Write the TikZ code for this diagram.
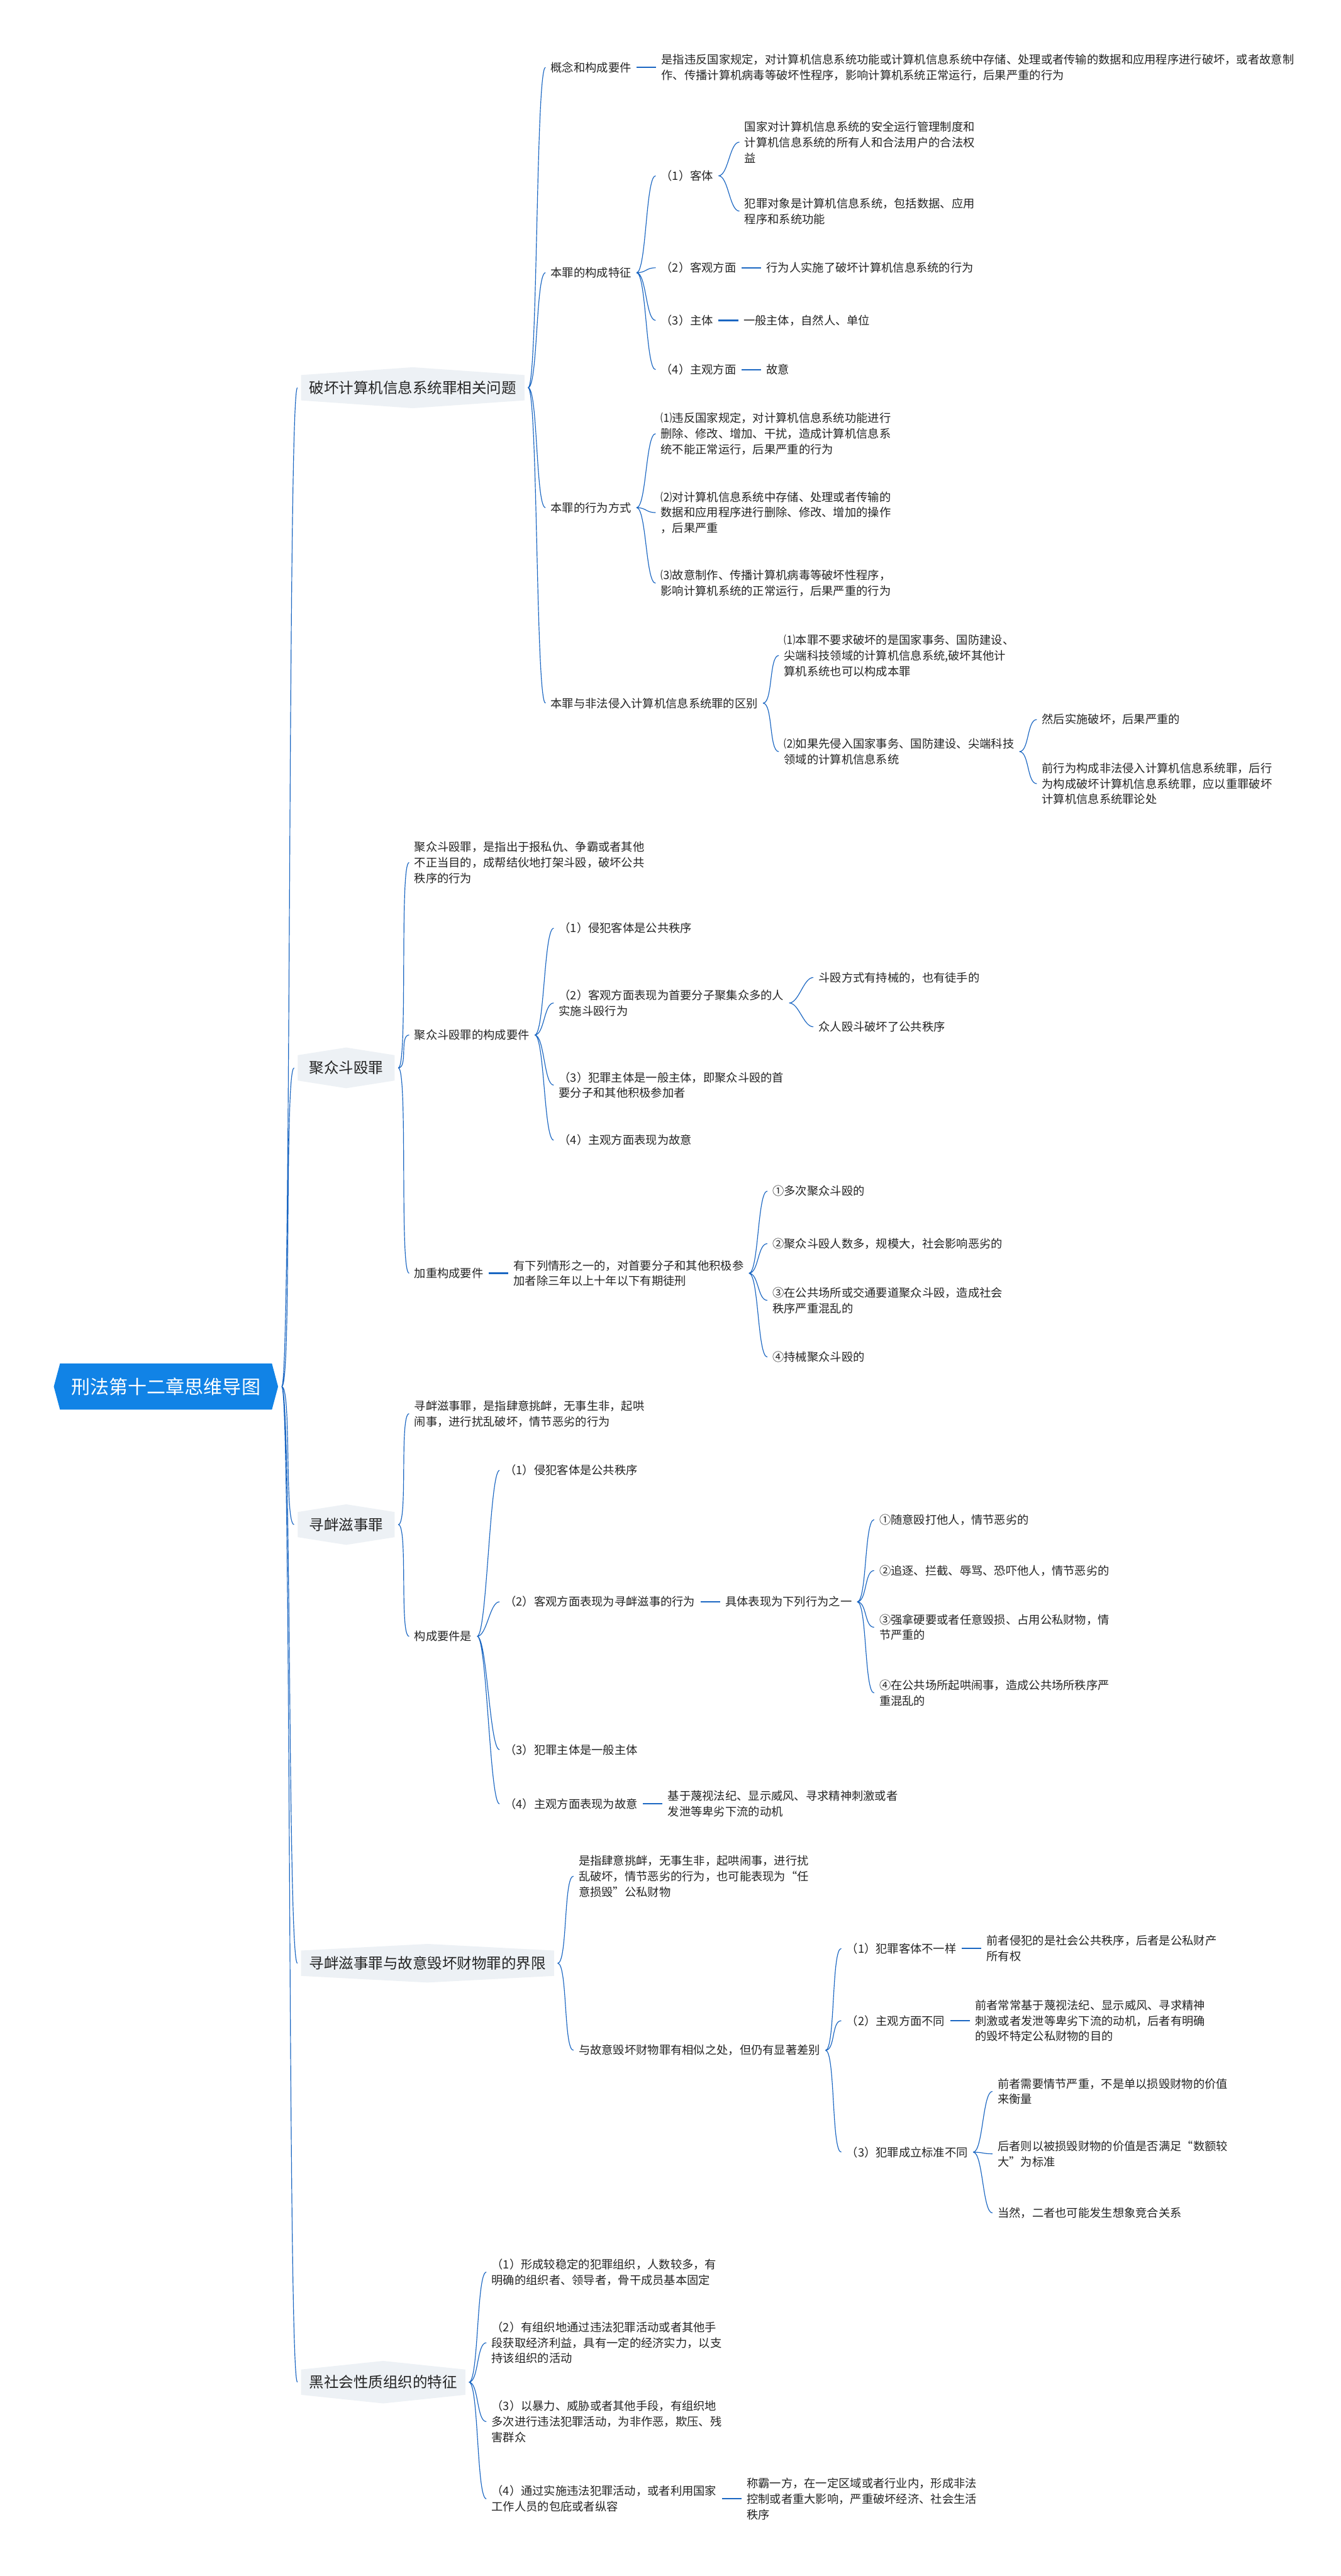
\documentclass[tikz,border=0pt]{standalone}
\usepackage{fontspec}
\setmainfont{Noto Sans CJK SC}
\usepackage{tikz}
\usetikzlibrary{positioning, shapes.symbols}
\definecolor{linea}{HTML}{1A66C2}
\definecolor{radicecol}{HTML}{1183E6}
\definecolor{grigio}{HTML}{EDF1F5}
\definecolor{testo}{HTML}{242424}
\tikzset{
	% nodo centrale (esagono blu)
	radice/.style={signal, signal to=west and east, signal pointer angle=150, fill=radicecol, text=white,
	               minimum height=28pt, inner xsep=7pt, font=\fontsize{11.5}{13}\selectfont},
	% rami principali (esagono grigio)
	categoria/.style={signal, signal to=north and south, signal pointer angle=172, fill=grigio, text=testo,
	                  anchor=west, inner xsep=5pt, inner ysep=3.5pt, font=\fontsize{9}{11}\selectfont},
	% testo semplice
	voce/.style={anchor=west, inner sep=1pt, align=left, text=testo, font=\fontsize{7}{9.5}\selectfont},
	% collegamento curvo
	ramo/.style={draw=linea, line width=0.45pt,
	             to path={([xshift=2pt]\tikztostart) .. controls +(6,0) and +(-6,0) .. ([xshift=-2pt]\tikztotarget)}},
	% collegamento diritto (figlio unico)
	tratto/.style={draw=linea, line width=0.9pt,
	               to path={([xshift=2pt]\tikztostart) -- ([xshift=-2pt]\tikztotarget)}},
}

\begin{document}
\begin{tikzpicture}[x=1pt, y=-1pt]
    \fill[white] (0,0) rectangle (816,1568);

    % ---------------- radice ----------------
    \node[radice] (r) at (101,844) {刑法第十二章思维导图};

    \node[categoria] (c1) at (183,236) {破坏计算机信息系统罪相关问题};
    \node[categoria, signal pointer angle=162, inner xsep=7pt] (c2) at (181,650) {聚众斗殴罪};
    \node[categoria, signal pointer angle=162, inner xsep=7pt] (c3) at (181,928) {寻衅滋事罪};
    \node[categoria, signal pointer angle=174] (c4) at (183,1195) {寻衅滋事罪与故意毁坏财物罪的界限};
    \node[categoria, signal pointer angle=168] (c5) at (183,1450) {黑社会性质组织的特征};
    \draw[ramo] (r.east) to (c1.west) (r.east) to (c2.west) (r.east) to (c3.west)
                (r.east) to (c4.west) (r.east) to (c5.west);

    % ---------------- 破坏计算机信息系统罪 ----------------
    \node[voce] (c1a) at (334,41) {概念和构成要件};
    \node[voce, right=16pt of c1a] (c1a1) {是指违反国家规定，对计算机信息系统功能或计算机信息系统中存储、处理或者传输的数据和应用程序进行破坏，或者故意制\\作、传播计算机病毒等破坏性程序，影响计算机系统正常运行，后果严重的行为};
    \draw[tratto] (c1a.east) to (c1a1.west);

    \node[voce] (c1b) at (334,166) {本罪的构成特征};
    \node[voce] (c1b1) at (401,107) {（1）客体};
    \node[voce] (c1b1a) at (452,86.5) {国家对计算机信息系统的安全运行管理制度和\\计算机信息系统的所有人和合法用户的合法权\\益};
    \node[voce] (c1b1b) at (452,128.5) {犯罪对象是计算机信息系统，包括数据、应用\\程序和系统功能};
    \node[voce] (c1b2) at (401,163) {（2）客观方面};
    \node[voce, right=16pt of c1b2] (c1b2a) {行为人实施了破坏计算机信息系统的行为};
    \node[voce] (c1b3) at (401,195) {（3）主体};
    \node[voce, right=16pt of c1b3] (c1b3a) {一般主体，自然人、单位};
    \node[voce] (c1b4) at (401,225) {（4）主观方面};
    \node[voce, right=16pt of c1b4] (c1b4a) {故意};
    \draw[ramo] (c1b1.east) to (c1b1a.west) (c1b1.east) to (c1b1b.west);
    \draw[ramo] (c1b.east) to (c1b1.west) (c1b.east) to (c1b2.west) (c1b.east) to (c1b3.west) (c1b.east) to (c1b4.west);
    \draw[tratto] (c1b2.east) to (c1b2a.west) (c1b3.east) to (c1b3a.west) (c1b4.east) to (c1b4a.west);

    \node[voce] (c1c) at (334,309) {本罪的行为方式};
    \node[voce] (c1c1) at (401,264) {⑴违反国家规定，对计算机信息系统功能进行\\删除、修改、增加、干扰，造成计算机信息系\\统不能正常运行，后果严重的行为};
    \node[voce] (c1c2) at (401,312) {⑵对计算机信息系统中存储、处理或者传输的\\数据和应用程序进行删除、修改、增加的操作\\，后果严重};
    \node[voce] (c1c3) at (401,355) {⑶故意制作、传播计算机病毒等破坏性程序，\\影响计算机系统的正常运行，后果严重的行为};
    \draw[ramo] (c1c.east) to (c1c1.west) (c1c.east) to (c1c2.west) (c1c.east) to (c1c3.west);

    \node[voce] (c1d) at (334,428) {本罪与非法侵入计算机信息系统罪的区别};
    \node[voce] (c1d1) at (476,399) {⑴本罪不要求破坏的是国家事务、国防建设、\\尖端科技领域的计算机信息系统,破坏其他计\\算机系统也可以构成本罪};
    \node[voce] (c1d2) at (476,457.5) {⑵如果先侵入国家事务、国防建设、尖端科技\\领域的计算机信息系统};
    \node[voce] (c1d2a) at (633,438) {然后实施破坏，后果严重的};
    \node[voce] (c1d2b) at (633,477) {前行为构成非法侵入计算机信息系统罪，后行\\为构成破坏计算机信息系统罪，应以重罪破坏\\计算机信息系统罪论处};
    \draw[ramo] (c1d.east) to (c1d1.west) (c1d.east) to (c1d2.west);
    \draw[ramo] (c1d2.east) to (c1d2a.west) (c1d2.east) to (c1d2b.west);

    \draw[ramo] (c1.east) to (c1a.west) (c1.east) to (c1b.west) (c1.east) to (c1c.west) (c1.east) to (c1d.west);

    % ---------------- 聚众斗殴罪 ----------------
    \node[voce] (c2a) at (251,525) {聚众斗殴罪，是指出于报私仇、争霸或者其他\\不正当目的，成帮结伙地打架斗殴，破坏公共\\秩序的行为};
    \node[voce] (c2b) at (251,630) {聚众斗殴罪的构成要件};
    \node[voce] (c2b1) at (339,565) {（1）侵犯客体是公共秩序};
    \node[voce] (c2b2) at (339,610.5) {（2）客观方面表现为首要分子聚集众多的人\\实施斗殴行为};
    \node[voce] (c2b2a) at (497,595) {斗殴方式有持械的，也有徒手的};
    \node[voce] (c2b2b) at (497,625) {众人殴斗破坏了公共秩序};
    \node[voce] (c2b3) at (339,660.5) {（3）犯罪主体是一般主体，即聚众斗殴的首\\要分子和其他积极参加者};
    \node[voce] (c2b4) at (339,694) {（4）主观方面表现为故意};
    \draw[ramo] (c2b.east) to (c2b1.west) (c2b.east) to (c2b2.west) (c2b.east) to (c2b3.west) (c2b.east) to (c2b4.west);
    \draw[ramo] (c2b2.east) to (c2b2a.west) (c2b2.east) to (c2b2b.west);

    \node[voce] (c2c) at (251,775) {加重构成要件};
    \node[voce, right=16pt of c2c] (c2c1) {有下列情形之一的，对首要分子和其他积极参\\加者除三年以上十年以下有期徒刑};
    \draw[tratto] (c2c.east) to (c2c1.west);
    \node[voce] (c2c1a) at (469,725) {①多次聚众斗殴的};
    \node[voce] (c2c1b) at (469,757) {②聚众斗殴人数多，规模大，社会影响恶劣的};
    \node[voce] (c2c1c) at (469,791.5) {③在公共场所或交通要道聚众斗殴，造成社会\\秩序严重混乱的};
    \node[voce] (c2c1d) at (469,826) {④持械聚众斗殴的};
    \draw[ramo] (c2c1.east) to (c2c1a.west) (c2c1.east) to (c2c1b.west) (c2c1.east) to (c2c1c.west) (c2c1.east) to (c2c1d.west);

    \draw[ramo] (c2.east) to (c2a.west) (c2.east) to (c2b.west) (c2.east) to (c2c.west);

    % ---------------- 寻衅滋事罪 ----------------
    \node[voce] (c3a) at (251,860.5) {寻衅滋事罪，是指肆意挑衅，无事生非，起哄\\闹事，进行扰乱破坏，情节恶劣的行为};
    \node[voce] (c3b) at (251,996) {构成要件是};
    \node[voce] (c3b1) at (306,895) {（1）侵犯客体是公共秩序};
    \node[voce] (c3b2) at (306,975) {（2）客观方面表现为寻衅滋事的行为};
    \node[voce, right=16pt of c3b2] (c3b2a) {具体表现为下列行为之一};
    \draw[tratto] (c3b2.east) to (c3b2a.west);
    \node[voce] (c3b2a1) at (534,925) {①随意殴打他人，情节恶劣的};
    \node[voce] (c3b2a2) at (534,956) {②追逐、拦截、辱骂、恐吓他人，情节恶劣的};
    \node[voce] (c3b2a3) at (534,990.5) {③强拿硬要或者任意毁损、占用公私财物，情\\节严重的};
    \node[voce] (c3b2a4) at (534,1030.5) {④在公共场所起哄闹事，造成公共场所秩序严\\重混乱的};
    \draw[ramo] (c3b2a.east) to (c3b2a1.west) (c3b2a.east) to (c3b2a2.west) (c3b2a.east) to (c3b2a3.west) (c3b2a.east) to (c3b2a4.west);
    \node[voce] (c3b3) at (306,1065) {（3）犯罪主体是一般主体};
    \node[voce] (c3b4) at (306,1098) {（4）主观方面表现为故意};
    \node[voce, right=16pt of c3b4] (c3b4a) {基于蔑视法纪、显示威风、寻求精神刺激或者\\发泄等卑劣下流的动机};
    \draw[tratto] (c3b4.east) to (c3b4a.west);
    \draw[ramo] (c3b.east) to (c3b1.west) (c3b.east) to (c3b2.west) (c3b.east) to (c3b3.west) (c3b.east) to (c3b4.west);

    \draw[ramo] (c3.east) to (c3a.west) (c3.east) to (c3b.west);

    % ---------------- 界限 ----------------
    \node[voce] (c4a) at (351,1142) {是指肆意挑衅，无事生非，起哄闹事，进行扰\\乱破坏，情节恶劣的行为，也可能表现为“任\\意损毁”公私财物};
    \node[voce] (c4b) at (351,1248) {与故意毁坏财物罪有相似之处，但仍有显著差别};
    \node[voce] (c4b1) at (514,1186) {（1）犯罪客体不一样};
    \node[voce, right=16pt of c4b1] (c4b1a) {前者侵犯的是社会公共秩序，后者是公私财产\\所有权};
    \node[voce] (c4b2) at (514,1230) {（2）主观方面不同};
    \node[voce, right=16pt of c4b2] (c4b2a) {前者常常基于蔑视法纪、显示威风、寻求精神\\刺激或者发泄等卑劣下流的动机，后者有明确\\的毁坏特定公私财物的目的};
    \node[voce] (c4b3) at (514,1310) {（3）犯罪成立标准不同};
    \node[voce] (c4b3a) at (606,1273) {前者需要情节严重，不是单以损毁财物的价值\\来衡量};
    \node[voce] (c4b3b) at (606,1311) {后者则以被损毁财物的价值是否满足“数额较\\大”为标准};
    \node[voce] (c4b3c) at (606,1347) {当然，二者也可能发生想象竞合关系};
    \draw[tratto] (c4b1.east) to (c4b1a.west) (c4b2.east) to (c4b2a.west);
    \draw[ramo] (c4b3.east) to (c4b3a.west) (c4b3.east) to (c4b3b.west) (c4b3.east) to (c4b3c.west);
    \draw[ramo] (c4b.east) to (c4b1.west) (c4b.east) to (c4b2.west) (c4b.east) to (c4b3.west);

    \draw[ramo] (c4.east) to (c4a.west) (c4.east) to (c4b.west);

    % ---------------- 黑社会性质组织 ----------------
    \node[voce] (c5a) at (298,1383) {（1）形成较稳定的犯罪组织，人数较多，有\\明确的组织者、领导者，骨干成员基本固定};
    \node[voce] (c5b) at (298,1426) {（2）有组织地通过违法犯罪活动或者其他手\\段获取经济利益，具有一定的经济实力，以支\\持该组织的活动};
    \node[voce] (c5c) at (298,1474) {（3）以暴力、威胁或者其他手段，有组织地\\多次进行违法犯罪活动，为非作恶，欺压、残\\害群众};
    \node[voce] (c5d) at (298,1521) {（4）通过实施违法犯罪活动，或者利用国家\\工作人员的包庇或者纵容};
    \node[voce, right=16pt of c5d] (c5d1) {称霸一方，在一定区域或者行业内，形成非法\\控制或者重大影响，严重破坏经济、社会生活\\秩序};
    \draw[tratto] (c5d.east) to (c5d1.west);

    \draw[ramo] (c5.east) to (c5a.west) (c5.east) to (c5b.west) (c5.east) to (c5c.west) (c5.east) to (c5d.west);
\end{tikzpicture}
\end{document}
